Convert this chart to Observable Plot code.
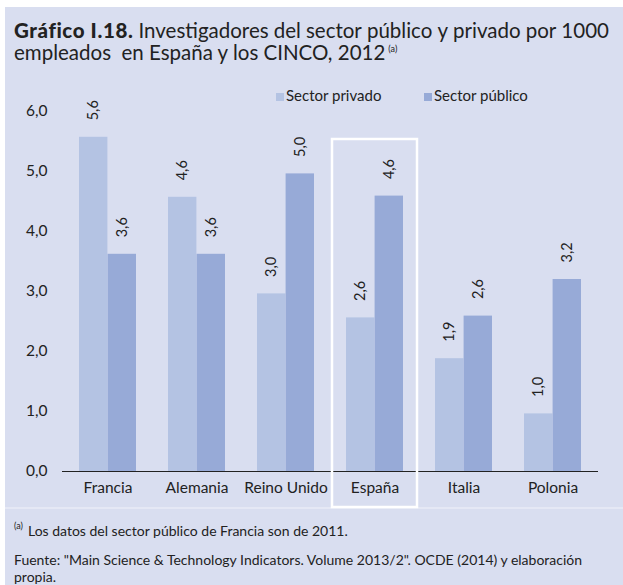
<!DOCTYPE html>
<html>
<head>
<meta charset="utf-8">
<script src="https://cdn.jsdelivr.net/npm/d3@7"></script>
<script src="https://cdn.jsdelivr.net/npm/@observablehq/plot@0.6"></script>
<style>
  html, body { margin:0; padding:0; background:#fff; }
  #wrap { position:relative; width:623px; height:585px; overflow:hidden; background:#fff; font-family:Lato, "Open Sans", sans-serif; color:#222; }
  #panel { position:absolute; left:5px; top:7px; right:0; bottom:0; background:#d9def0; }
  #title { position:absolute; left:14px; top:19px; width:595px; font-size:20.5px; line-height:22px; color:#222; }
  #title .l1 { white-space:nowrap; display:flex; justify-content:space-between; }
  #title b { font-weight:900; letter-spacing:0.6px; }
  #title sup { font-size:9px; vertical-align:8px; line-height:0; margin-left:3px; }
  #notes sup { font-size:9px; vertical-align:7px; line-height:0; margin-right:5px; }
  #legend { position:absolute; top:86px; left:0; font-size:15px; }
  .item { position:absolute; white-space:nowrap; }
  .sw { display:inline-block; width:8px; height:8px; margin-right:2px; vertical-align:0px; }
  #chart { position:absolute; left:0; top:80px; }
  #sep { position:absolute; left:5px; right:0; top:507px; height:2px; background:#e5e8f5; }
  #notes { position:absolute; left:14px; top:522px; width:600px; font-size:14px; line-height:17px; }
</style>
</head>
<body>
<div id="wrap">
  <div id="panel"></div>
  <div id="sep"></div>
  <div id="title"></div>
  <div id="legend"></div>
  <div id="chart"></div>
  <div id="notes"></div>
</div>
<script>
const countries = ["Francia", "Alemania", "Reino Unido", "España", "Italia", "Polonia"];
const privado = [5.57, 4.57, 2.96, 2.56, 1.88, 0.96];
const publico = [3.62, 3.62, 4.96, 4.59, 2.59, 3.20];
const seriesNames = ["Sector privado", "Sector público"];
const seriesColors = ["#b4c3e3", "#97aad7"];
const yTicks = [0, 1, 2, 3, 4, 5, 6];
const highlight = ["España"];
const titleBold = "Gráfico I.18.";
const titleLine1 = ["Investigadores", "del", "sector", "público", "y", "privado", "por", "1000"];
const titleLine2 = "empleados&nbsp; en España y los CINCO, 2012";
const noteText = "Los datos del sector público de Francia son de 2011.";
const sourceText = "Fuente: \"Main Science &amp; Technology Indicators. Volume 2013/2\". OCDE (2014) y elaboración propia.";

const fmt = d => d.toFixed(1).replace(".", ",");

document.getElementById("title").innerHTML =
  `<div class="l1"><b>${titleBold}</b>${titleLine1.map(w => `<span>${w}</span>`).join("")}</div>` +
  `<div>${titleLine2}<sup>(a)</sup></div>`;
document.getElementById("notes").innerHTML =
  `<div style="margin-bottom:12px"><sup>(a)</sup>${noteText}</div><div>${sourceText}</div>`;

const legend = document.getElementById("legend");
const legendX = [276, 424];
seriesNames.forEach((s, i) => {
  const el = document.createElement("div");
  el.className = "item";
  el.style.left = legendX[i] + "px";
  el.innerHTML = `<span class="sw" style="background:${seriesColors[i]}"></span>${s}`;
  legend.appendChild(el);
});

const privRows = countries.map((c, i) => ({country: c, value: privado[i]}));
const pubRows = countries.map((c, i) => ({country: c, value: publico[i]}));

const chart = Plot.plot({
  width: 623,
  height: 430,
  marginLeft: 62,
  marginRight: 25,
  marginTop: 31,
  marginBottom: 39,
  style: {background: "transparent", fontFamily: "Lato, 'Open Sans', sans-serif", fontSize: "15.5px", color: "#222", overflow: "visible"},
  x: {domain: countries, paddingInner: 0.36, paddingOuter: 0.18, label: null, tickSize: 0, tickPadding: 10},
  y: {domain: [0, 6], ticks: yTicks, tickFormat: fmt, label: null, tickSize: 0, tickPadding: 15},
  marks: [
    Plot.barY(privRows, {x: "country", y: "value", fill: seriesColors[0], insetRight: 28.6}),
    Plot.barY(pubRows, {x: "country", y: "value", fill: seriesColors[1], insetLeft: 28.6}),
    Plot.ruleY([0], {stroke: "#222", strokeWidth: 1.2}),
    Plot.text(privRows, {x: "country", y: "value", text: d => fmt(d.value), rotate: -90, textAnchor: "start", dx: -14.3, dy: -17, fontSize: 14.5, fill: "#222"}),
    Plot.text(pubRows, {x: "country", y: "value", text: d => fmt(d.value), rotate: -90, textAnchor: "start", dx: 14.3, dy: -17, fontSize: 14.5, fill: "#222"}),
    Plot.cell(highlight, {x: d => d, fill: "none", stroke: "white", strokeWidth: 2.5, insetLeft: -14, insetRight: -14, insetTop: 28, insetBottom: -36})
  ]
});
document.getElementById("chart").appendChild(chart);
</script>
</body>
</html>
